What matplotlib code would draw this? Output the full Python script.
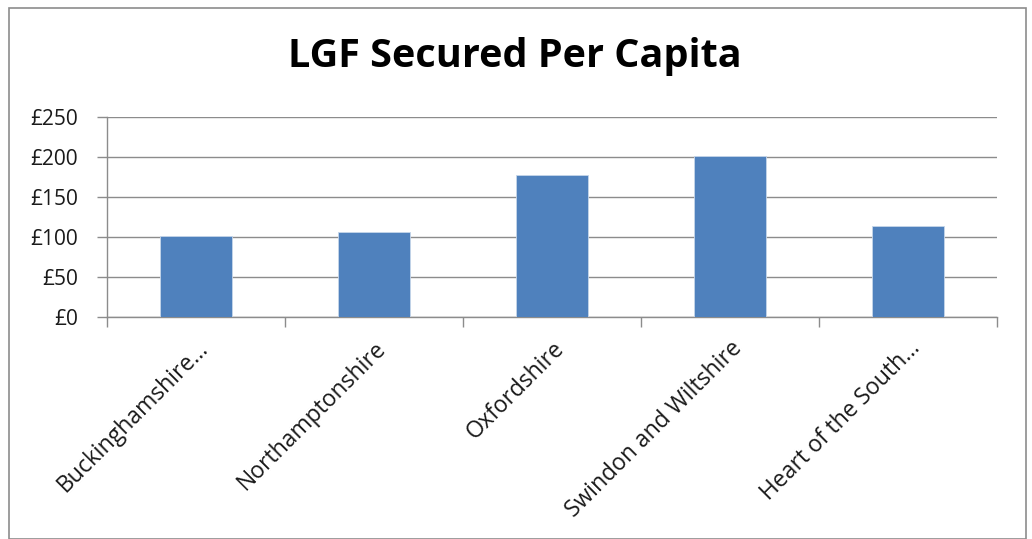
import matplotlib
matplotlib.use("Agg")
import matplotlib.pyplot as plt
from matplotlib.patches import Rectangle
import numpy as np

# chart data
regions = ["Buckinghamshire…", "Northamptonshire", "Oxfordshire",
           "Swindon and Wiltshire", "Heart of the South…"]
lgf_per_capita = [101, 106, 177, 201, 114]
y_ticks = [0, 50, 100, 150, 200, 250]
y_labels = ["£0", "£50", "£100", "£150", "£200", "£250"]

plt.rcParams['font.family'] = ['Open Sans', 'DejaVu Sans']

fig = plt.figure(figsize=(10.32, 5.39), dpi=100)
ax = fig.add_axes([107/1032, 1-317/539, 890/1032, 200/539])

x = np.arange(len(regions))
ax.bar(x, lgf_per_capita, width=0.405, color="#4f81bd", edgecolor="#c6d6ea",
       linewidth=0.6, zorder=3)

ax.set_xlim(-0.5, len(regions) - 0.5)
ax.set_ylim(0, 250)
ax.set_yticks(y_ticks)
ax.set_yticklabels(y_labels, fontsize=15, color="#1a1a1a")
ax.yaxis.grid(True, color="#8c8c8c", linewidth=1.0, zorder=0)

# ticks between categories, labels centred on bars
ax.set_xticks(np.arange(len(regions) + 1) - 0.5)
ax.set_xticklabels([])
ax.set_xticks(x, minor=True)
ax.set_xticklabels(regions, minor=True, rotation=45, ha="right",
                   rotation_mode="anchor", fontsize=16.5, color="#1a1a1a")
ax.tick_params(axis="x", which="minor", length=0, pad=14)
ax.tick_params(axis="x", which="major", length=7, color="#8c8c8c", width=1)
ax.tick_params(axis="y", length=7, color="#8c8c8c", width=1, pad=14)

for side in ["top", "right"]:
    ax.spines[side].set_visible(False)
for side in ["left", "bottom"]:
    ax.spines[side].set_color("#8c8c8c")
    ax.spines[side].set_linewidth(1.0)

fig.text(515/1032, 1-57/539, "LGF Secured Per Capita", ha="center", va="center",
         fontsize=28.5, fontweight="bold", color="black")

# outer chart border
fig.patches.append(Rectangle((9/1032, 0), 1017/1032, 1-8/539, transform=fig.transFigure,
                             fill=False, edgecolor="#8c8c8c", linewidth=1.2))

fig.savefig("out.png", dpi=100)
